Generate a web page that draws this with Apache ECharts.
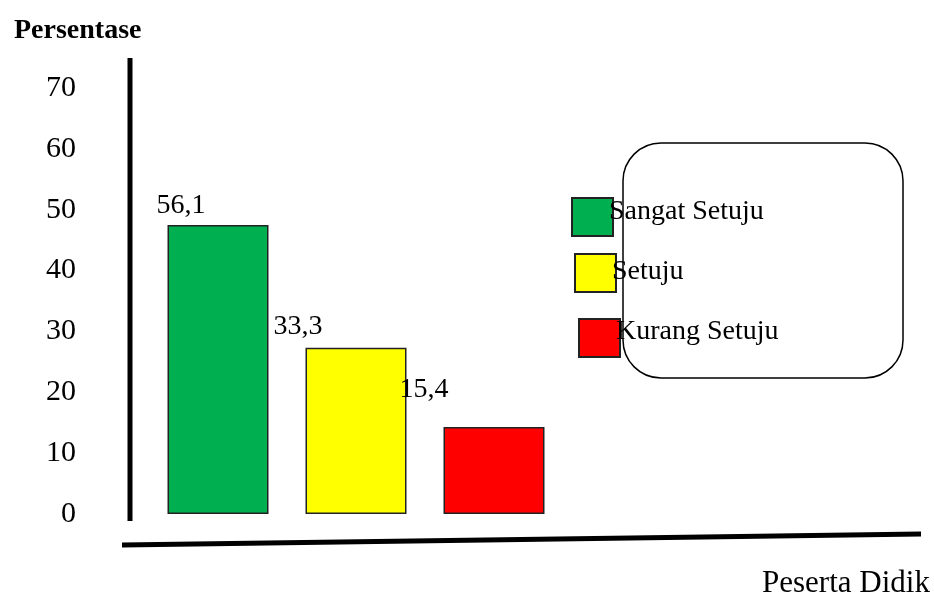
<!DOCTYPE html>
<html>
<head>
<meta charset="utf-8">
<script src="https://cdn.jsdelivr.net/npm/echarts@6/dist/echarts.min.js"></script>
<style>html,body{margin:0;padding:0;background:#fff}#c{width:934px;height:595px}</style>
</head>
<body>
<div id="c"></div>
<script>
// Data (bar heights as drawn on the 0–70 axis; printed labels)
const categories = ['Sangat Setuju', 'Setuju', 'Kurang Setuju'];
const barHeights = [47.5, 27.3, 14.3];
const barLabels = ['56,1', '33,3', '15,4'];
const colors = ['#00B050', '#FFFF00', '#FF0000'];
const yTicks = [0, 10, 20, 30, 40, 50, 60, 70];

const FONT = '"Liberation Serif", "Times New Roman", serif';
const labelOffsets = [[-37, 0], [-58, -2], [-70, -18]];
const legendPos = [[571, 197], [574, 253], [578, 318]];
const legendLift = [10, 2, 12];

const chart = echarts.init(document.getElementById('c'), null, {renderer: 'canvas'});

const series = categories.map((name, i) => ({
  name: name,
  type: 'bar',
  barWidth: 101,
  barGap: '-100%',
  data: categories.map((c, j) => j === i ? barHeights[j] : '-'),
  itemStyle: {color: colors[i], borderColor: '#222', borderWidth: 1.5},
  label: {
    show: true,
    position: 'top',
    offset: labelOffsets[i],
    color: '#000',
    fontFamily: FONT,
    fontSize: 28,
    formatter: () => barLabels[i]
  },
  z: 3
}));

const legends = categories.map((name, i) => ({
  data: [name],
  left: legendPos[i][0],
  top: legendPos[i][1],
  orient: 'vertical',
  selectedMode: false,
  icon: 'rect',
  itemWidth: 41,
  itemHeight: 38,
  padding: 0,
  formatter: (n) => '{a|' + n + '}\n{b| }',
  textStyle: {
    color: '#000', fontFamily: FONT, fontSize: 28, padding: [0, 0, 0, -9],
    rich: {
      a: {color: '#000', fontFamily: FONT, fontSize: 28, lineHeight: 32},
      b: {fontSize: 2, lineHeight: legendLift[i]}
    }
  },
  z: 5
}));

chart.setOption({
  animation: false,
  backgroundColor: '#fff',
  title: [
    {text: 'Persentase', left: 9, top: 12, textStyle: {fontFamily: FONT, fontSize: 28, fontWeight: 'bold', color: '#000'}},
    {text: 'Peserta Didik', left: 757, top: 563, textStyle: {fontFamily: FONT, fontSize: 31, fontWeight: 'normal', color: '#000'}}
  ],
  legend: legends,
  grid: {left: 149, width: 414, top: 88, bottom: 81},
  xAxis: {
    type: 'category',
    data: categories,
    axisLine: {show: false},
    axisTick: {show: false},
    axisLabel: {show: false}
  },
  yAxis: {
    type: 'value',
    min: yTicks[0],
    max: yTicks[yTicks.length - 1],
    interval: yTicks[1] - yTicks[0],
    axisLine: {show: false},
    axisTick: {show: false},
    splitLine: {show: false},
    axisLabel: {margin: 73, color: '#000', fontFamily: FONT, fontSize: 30}
  },
  graphic: [
    {type: 'rect', shape: {x: 623, y: 143, width: 280, height: 235, r: 38}, style: {fill: 'none', stroke: '#000', lineWidth: 1.5}, z: 1},
    {type: 'line', shape: {x1: 130, y1: 58, x2: 130, y2: 521}, style: {stroke: '#000', lineWidth: 5}, z: 1},
    {type: 'line', shape: {x1: 122, y1: 545, x2: 921, y2: 534}, style: {stroke: '#000', lineWidth: 5}, z: 1}
  ],
  series: series
});
</script>
</body>
</html>
